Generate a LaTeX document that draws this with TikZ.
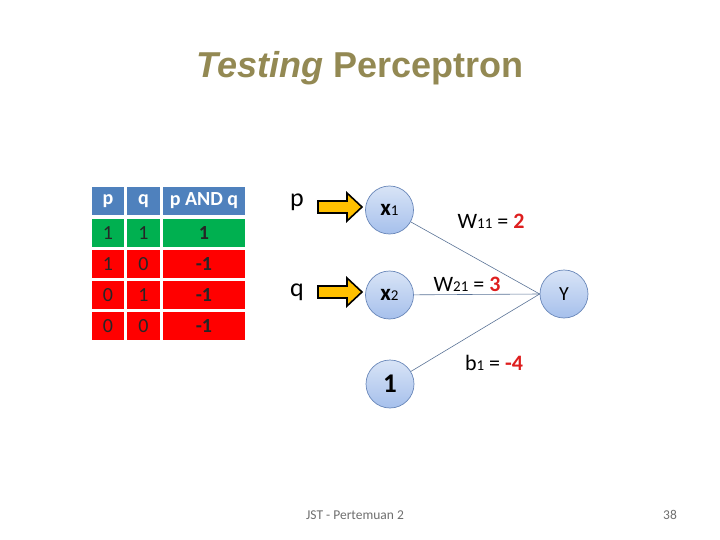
\documentclass[tikz,border=0pt]{standalone}
\usepackage{fontspec}
\setmainfont{Carlito}
\newfontfamily\arialfont{Liberation Sans}
\definecolor{titlecol}{RGB}{147,137,83}
\definecolor{hdrblue}{RGB}{79,129,189}
\definecolor{cellgreen}{RGB}{0,176,80}
\definecolor{cellred}{RGB}{255,0,0}
\definecolor{arrowyel}{RGB}{255,192,0}
\definecolor{circtop}{RGB}{216,228,246}
\definecolor{circbot}{RGB}{166,192,236}
\definecolor{circline}{RGB}{105,135,185}
\definecolor{edgecol}{RGB}{90,115,150}
\definecolor{valred}{RGB}{222,30,30}
\definecolor{footgray}{RGB}{110,110,110}
\tikzset{
  cell/.style={inner sep=0pt, minimum height=28pt, font=\fontsize{20}{22}\selectfont, text=black!85},
  hdr/.style={cell, fill=hdrblue, text=white, font=\fontsize{20}{22}\selectfont\bfseries},
  grn/.style={cell, fill=cellgreen},
  rd/.style={cell, fill=cellred},
  boldcell/.style={font=\fontsize{20}{22}\selectfont\bfseries},
  neuron/.style={circle, minimum size=48pt, inner sep=0pt, top color=circtop, bottom color=circbot, draw=circline, line width=0.7pt},
  blockarrow/.style={fill=arrowyel, draw=black, line width=1.6pt, line join=miter},
  edge/.style={draw=edgecol, line width=0.6pt},
  wlabel/.style={inner sep=0pt, font=\fontsize{22}{24}\selectfont}
}
\newcommand{\sbs}[1]{{\fontsize{15}{16}\selectfont #1}}
\begin{document}
\begin{tikzpicture}[x=1pt,y=-1pt]
\useasboundingbox (0,0) rectangle (720,540);
% title
\node[text=titlecol, font=\arialfont\fontsize{36}{40}\selectfont\bfseries] (title) at (360,68) {\textit{Testing} Perceptron};
% table
\node[hdr, minimum width=32pt] (h1) at (108,201) {p};
\node[hdr, minimum width=33pt] (h2) at (143.5,201) {q};
\node[hdr, minimum width=82pt] (h3) at (204,201) {p AND q};
\node[grn, minimum width=32pt] (a1) at (108,233) {1};
\node[grn, minimum width=33pt] (a2) at (143.5,233) {1};
\node[grn, minimum width=82pt, boldcell] (a3) at (204,233) {1};
\node[rd, minimum width=32pt] (b1) at (108,264) {1};
\node[rd, minimum width=33pt] (b2) at (143.5,264) {0};
\node[rd, minimum width=82pt, boldcell] (b3) at (204,264) {-1};
\node[rd, minimum width=32pt] (c1) at (108,295) {0};
\node[rd, minimum width=33pt] (c2) at (143.5,295) {1};
\node[rd, minimum width=82pt, boldcell] (c3) at (204,295) {-1};
\node[rd, minimum width=32pt] (d1) at (108,326) {0};
\node[rd, minimum width=33pt] (d2) at (143.5,326) {0};
\node[rd, minimum width=82pt, boldcell] (d3) at (204,326) {-1};
% inputs
\node[font=\fontsize{26}{28}\selectfont] (plab) at (297,202) {p};
\node[font=\fontsize{26}{28}\selectfont] (qlab) at (297,292) {q};
\draw[blockarrow] (318,201) -- (347,201) -- (347,193) -- (362,207) -- (347,221) -- (347,213) -- (318,213) -- cycle;
\draw[blockarrow] (318,286) -- (347,286) -- (347,278) -- (362,292) -- (347,306) -- (347,298) -- (318,298) -- cycle;
% neurons
\node[neuron] (x1) at (389.5,210) {{\fontsize{23}{24}\selectfont\bfseries x}\sbs{1}};
\node[neuron] (x2) at (389.5,295) {{\fontsize{23}{24}\selectfont\bfseries x}\sbs{2}};
\node[neuron, font=\fontsize{27}{28}\selectfont\bfseries] (one) at (390,384) {1};
\node[neuron, font=\fontsize{20}{22}\selectfont] (Y) at (564,294) {Y};
% edges
\draw[edge] (x1) -- (Y.west);
\draw[edge] (x2) -- (Y.west);
\draw[edge] (one) -- (Y.west);
% weight labels
\node[wlabel] (w11) at (491,221) {W\sbs{11} = \textcolor{valred}{\textbf{2}}};
\node[wlabel] (w21) at (467,284) {W\sbs{21} = \textcolor{valred}{\textbf{3}}};
\node[wlabel] (bias) at (494,363) {b\sbs{1} = \textcolor{valred}{\textbf{-4}}};
% footer
\node[text=footgray, font=\fontsize{13.5}{15}\selectfont] (foot) at (355,515) {JST - Pertemuan 2};
\node[text=footgray, font=\fontsize{13.5}{15}\selectfont] (pnum) at (670,515) {38};
\end{tikzpicture}
\end{document}
